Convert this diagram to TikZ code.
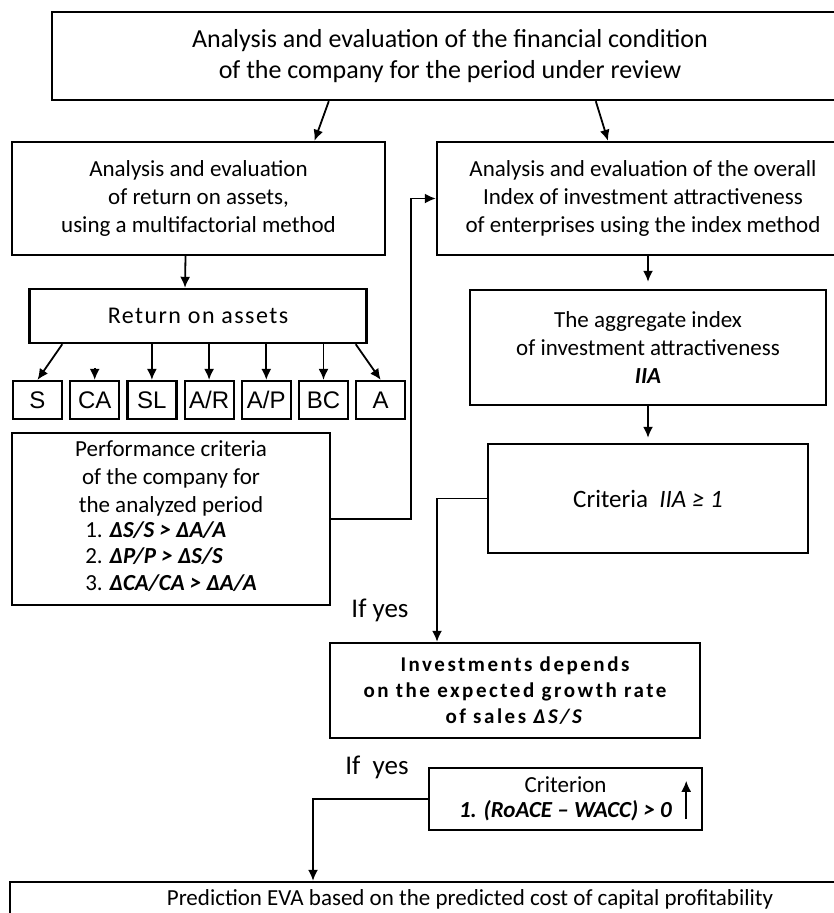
\documentclass[tikz,border=0pt]{standalone}
\usepackage{fontspec}
\setmainfont{Carlito}
\newfontfamily\arialfont{Liberation Sans}
\newfontfamily\widefont[LetterSpace=12]{Carlito}
\newfontfamily\airyfont[LetterSpace=6]{Carlito}
\usetikzlibrary{positioning,arrows.meta}
\tikzset{box/.style={draw,line width=2.4pt,inner sep=2pt,align=center,font=\fontsize{23}{28}\selectfont},
	 fbox/.style={draw,line width=2.2pt,minimum width=49pt,minimum height=38pt,inner sep=0pt,font=\arialfont\fontsize{24}{24}\selectfont},
	 arr/.style={-{Latex[length=11pt,width=10pt]},line width=1.8pt},
	 lbl/.style={font=\fontsize{27}{27}\selectfont},
	 node distance = 6pt
	 }

\begin{document}
\begin{tikzpicture}[x=1pt,y=-1pt] % investment analysis scheme
	\clip (0,0) rectangle (834,913);
        \node[box,font=\fontsize{26}{31}\selectfont,minimum width=796pt,minimum height=88pt] (fin) at (450,56) {Analysis and evaluation of the financial condition\\of the company for the period under review};
        \node[box,minimum width=373pt,minimum height=113pt] (roaeval) at (198.5,198.5) {Analysis and evaluation\\of return on assets,\\using a multifactorial method};
        \node[box,minimum width=412pt,minimum height=113pt] (idxeval) at (643,198.5) {Analysis and evaluation of the overall\\Index of investment attractiveness\\of enterprises using the index method};
        \node[box,font=\airyfont\fontsize{24}{28}\selectfont,minimum width=337pt,minimum height=54pt] (roa) at (198,316) {Return on assets};
        % factors of return on assets
        \node[fbox] (s) at (37.5,400) {S};
        \node[fbox] (ca) [right=of s] {CA};
        \node[fbox] (sl) [right=of ca] {SL};
        \node[fbox] (ar) [right=of sl] {A/R};
        \node[fbox] (ap) [right=of ar] {A/P};
        \node[fbox] (bc) [right=of ap] {BC};
        \node[fbox] (a) [right=of bc] {A};
        \node[box,minimum width=318pt,minimum height=172pt] (perf) at (171,519) {Performance criteria\\of the company for\\the analyzed period\\[3pt]
          \renewcommand{\arraystretch}{0.93}\begin{tabular}{@{}l@{}}1. \textbf{\textit{ΔS/S > ΔA/A}}\\2. \textbf{\textit{ΔP/P > ΔS/S}}\\3. \textbf{\textit{ΔCA/CA > ΔA/A}}\end{tabular}};
        \node[box,minimum width=356pt,minimum height=115pt] (agg) at (648,347.5) {The aggregate index\\of investment attractiveness\\\textbf{\textit{IIA}}};
        \node[box,font=\fontsize{25}{28}\selectfont,minimum width=320pt,minimum height=109pt] (crit) at (648,498.5) {Criteria~ \textit{IIA ≥ 1}};
        \node[lbl] (yes1) at (380,610) {If yes};
        \node[box,font=\widefont\bfseries\fontsize{21}{26}\selectfont,minimum width=370pt,minimum height=95pt] (inv) at (515,690.5) {Investments depends\\on the expected growth rate\\of sales \textit{ΔS/S}};
        \node[lbl] (yes2) at (377,767) {If~ yes};
        \node[box,font=\fontsize{23}{25}\selectfont,minimum width=273pt,minimum height=62pt,inner sep=0pt] (crion) at (565.5,799) {Criterion\\\textbf{\textit{1. (RoACE – WACC) > 0}}};
        \node[box,minimum width=920pt,minimum height=34pt] (pred) at (470,899) {Prediction EVA based on the predicted cost of capital profitability};
	% connectors
	\draw[arr] ([xshift=278pt]fin.south west) -- ([xshift=116pt]roaeval.north);
	\draw[arr] ([xshift=545pt]fin.south west) -- ([xshift=-35pt]idxeval.north);
	\draw[arr] ([xshift=-13pt]roaeval.south) -- ([xshift=-13pt]roa.north);
	\draw[arr] ([xshift=34pt]roa.south west) -- (s.north);
	\draw[arr] ([yshift=12pt]ca.north) -- (ca.north);
	\foreach \f in {sl,ar,ap,bc} \draw[arr] (roa.south -| \f.north) -- (\f.north);
	\draw[arr] ([xshift=-12pt]roa.south east) -- (a.north);
	\draw[arr] (perf.east) -- ++(80,0) |- (idxeval.west);
	\draw[arr,shorten >=7pt] (idxeval.south -| agg.north) -- (agg.north);
	\draw[arr,shorten >=5pt] (agg.south) -- (crit.north);
	\draw[arr] (crit.west) -| ([xshift=-78pt]inv.north);
	\draw[arr] (crion.west) -| ([xshift=-157pt]pred.north);
	\draw[arr] ([xshift=-17pt,yshift=12pt]crion.south east) -- ([xshift=-17pt,yshift=-14pt]crion.north east);
     \end{tikzpicture}
\end{document}
